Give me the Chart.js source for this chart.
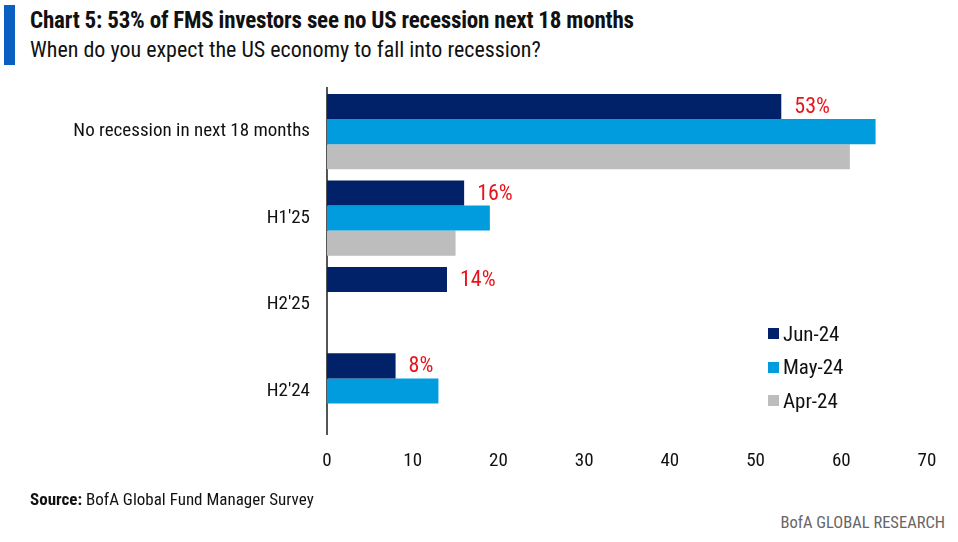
<!DOCTYPE html>
<html>
<head>
<meta charset="utf-8">
<script src="https://cdn.jsdelivr.net/npm/chart.js@4.4.1/dist/chart.umd.min.js"></script>
<style>
  body { margin: 0; background: #fff; width: 958px; height: 542px; position: relative; overflow: hidden;
         font-family: "Liberation Sans Narrow", "Roboto Condensed", Roboto, sans-serif; color: #111; }
  .bar { position: absolute; left: 4px; top: 5px; width: 11px; height: 60px; background: #0B5FC1; }
  .title { position: absolute; left: 30px; top: 7px; font-size: 23px; font-weight: bold; letter-spacing: -0.2px; }
  .subtitle { position: absolute; left: 30px; top: 37px; font-size: 22px; }
  .source { position: absolute; left: 30px; top: 489px; font-size: 17px; }
  .brand { position: absolute; right: 13px; top: 513px; font-size: 16.5px; color: #666; }
  #wrap { position: absolute; left: 0; top: 60px; width: 958px; height: 437px; }
  #legend { position: absolute; left: 768px; top: 317px; font-size: 21px; }
  #legend div { height: 33.5px; display: flex; align-items: center; }
  #legend span.sw { display: inline-block; width: 11px; height: 11px; margin-right: 4px; }
</style>
</head>
<body>
<div class="bar"></div>
<div class="title">Chart 5: 53% of FMS investors see no US recession next 18 months</div>
<div class="subtitle">When do you expect the US economy to fall into recession?</div>
<div id="wrap"><canvas id="chart"></canvas></div>
<div id="legend"></div>
<div class="source"><b>Source:</b> BofA Global Fund Manager Survey</div>
<div class="brand">BofA GLOBAL RESEARCH</div>
<script>
const categories = ['No recession in next 18 months', "H1'25", "H2'25", "H2'24"];
const jun24 = [53, 16, 14, 8];
const may24 = [64, 19, null, 13];
const apr24 = [61, 15, null, null];
const xTicks = [0, 10, 20, 30, 40, 50, 60, 70];

const fontFamily = '"Liberation Sans Narrow", "Roboto Condensed", Roboto, sans-serif';

const valueLabels = {
  id: 'valueLabels',
  afterDatasetsDraw(chart) {
    const ctx = chart.ctx;
    const meta = chart.getDatasetMeta(0);
    ctx.save();
    ctx.fillStyle = '#E8141B';
    ctx.font = '22px ' + fontFamily;
    ctx.textBaseline = 'middle';
    meta.data.forEach((bar, i) => {
      const v = chart.data.datasets[0].data[i];
      if (v == null) return;
      ctx.fillText(v + '%', bar.x + 13, bar.y + 1);
    });
    ctx.restore();
  }
};

const ctx = document.getElementById('chart').getContext('2d');
const chart = new Chart(ctx, {
  type: 'bar',
  data: {
    labels: categories,
    datasets: [
      { label: 'Jun-24', data: jun24, backgroundColor: '#012169' },
      { label: 'May-24', data: may24, backgroundColor: '#009CDE' },
      { label: 'Apr-24', data: apr24, backgroundColor: '#BDBDBD' }
    ]
  },
  options: {
    indexAxis: 'y',
    responsive: true,
    maintainAspectRatio: false,
    animation: false,
    layout: { padding: { top: 5, right: 31, bottom: 8 } },
    datasets: { bar: { categoryPercentage: 0.87, barPercentage: 1.0 } },
    plugins: { legend: { display: false }, tooltip: { enabled: false } },
    scales: {
      x: {
        min: 0, max: 70,
        afterBuildTicks(axis) { axis.ticks = xTicks.map(v => ({ value: v })); },
        grid: { display: false, drawTicks: false },
        border: { display: false },
        ticks: { color: '#111', padding: 16, font: { size: 19, family: fontFamily } }
      },
      y: {
        afterFit(axis) { axis.width = 327; },
        grid: { display: false, drawTicks: false },
        border: { display: true, color: '#555', width: 2 },
        ticks: { color: '#111', padding: 17, font: { size: 19, family: fontFamily } }
      }
    }
  },
  plugins: [valueLabels]
});

// legend built from the datasets
const legendEl = document.getElementById('legend');
chart.data.datasets.forEach(ds => {
  const row = document.createElement('div');
  row.innerHTML = `<span class="sw" style="background:${ds.backgroundColor}"></span>${ds.label}`;
  legendEl.appendChild(row);
});
</script>
</body>
</html>
